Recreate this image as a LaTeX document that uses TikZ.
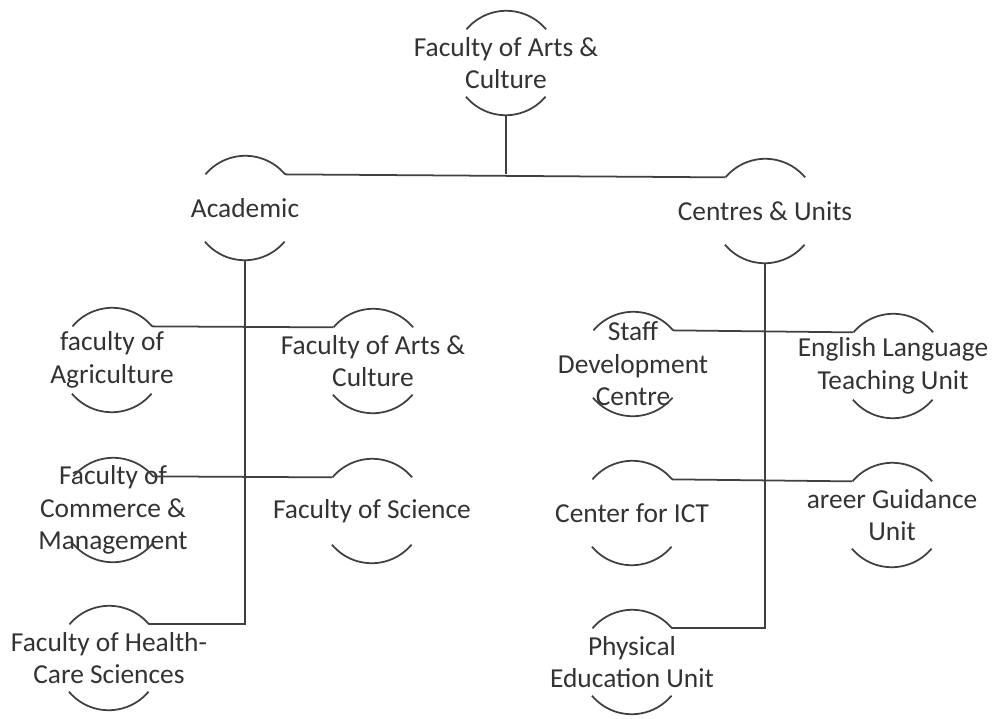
\documentclass[tikz,border=0pt]{standalone}
\usepackage{fontspec}
\setmainfont{Carlito}
\usepackage{tikz}
\usetikzlibrary{positioning,calc}

\tikzset{
    unit/.style={circle, minimum size=2.08cm, inner sep=0pt},
    every label/.style={align=center, text=black!80, font=\fontsize{15.6}{18.5}\selectfont},
    link/.style={draw=black!75, line width=1pt},
}

\begin{document}
\begin{tikzpicture}[x=0.02cm, y=-0.02cm]
    \useasboundingbox (0,0) rectangle (1000,718);

    % Top
    \node[unit, label={center:Faculty of Arts \&\\Culture}] (top) at (506,63) {};

    % Second level
    \node[unit, label={center:Academic}] (acad) at (245,208) {};
    \node[unit, label={center:Centres \& Units}] (cen) at (765,211) {};

    % Academic
    \node[unit, label={center:faculty of\\Agriculture}] (agr) at (112,360) {};
    \node[unit, label={center:Faculty of Arts \&\\Culture}] (art) at (373,361) {};
    \node[unit, label={center:Faculty of\\Commerce \&\\Management}] (com) at (113,510) {};
    \node[unit, label={center:Faculty of Science}] (sci) at (372,511) {};
    \node[unit, label={center:Faculty of Health-\\Care Sciences}] (hea) at (109,658) {};

    % Centres & Units
    \node[unit, label={center:Staff\\Development\\Centre}] (sta) at (633,364) {};
    \node[unit, label={center:English Language\\Teaching Unit}] (eng) at (893,366) {};
    \node[unit, label={center:Center for ICT}] (ict) at (632,513) {};
    \node[unit, label={center:areer Guidance\\Unit}] (car) at (892,515) {};
    \node[unit, label={center:Physical\\Education Unit}] (phy) at (632,662) {};

    % Arcs
    \foreach \n in {top,acad,cen,agr,art,com,sci,hea,sta,eng,ict,car,phy}
        \draw[link] (\n.40) arc (40:140:1.04cm) (\n.220) arc (220:320:1.04cm);

    % Links
    \draw[link] (top.270) -- (top.270 |- acad.40);
    \draw[link] (acad.40) -- (cen.140);
    \draw[link] (acad.270) -- (acad.270 |- hea.40) -- (hea.40);
    \draw[link] (agr.40) -- (art.140);
    \draw[link] (com.40) -- (sci.140);
    \draw[link] (cen.270) -- (cen.270 |- phy.40) -- (phy.40);
    \draw[link] (sta.40) -- (eng.140);
    \draw[link] (ict.40) -- (car.140);

\end{tikzpicture}
\end{document}
